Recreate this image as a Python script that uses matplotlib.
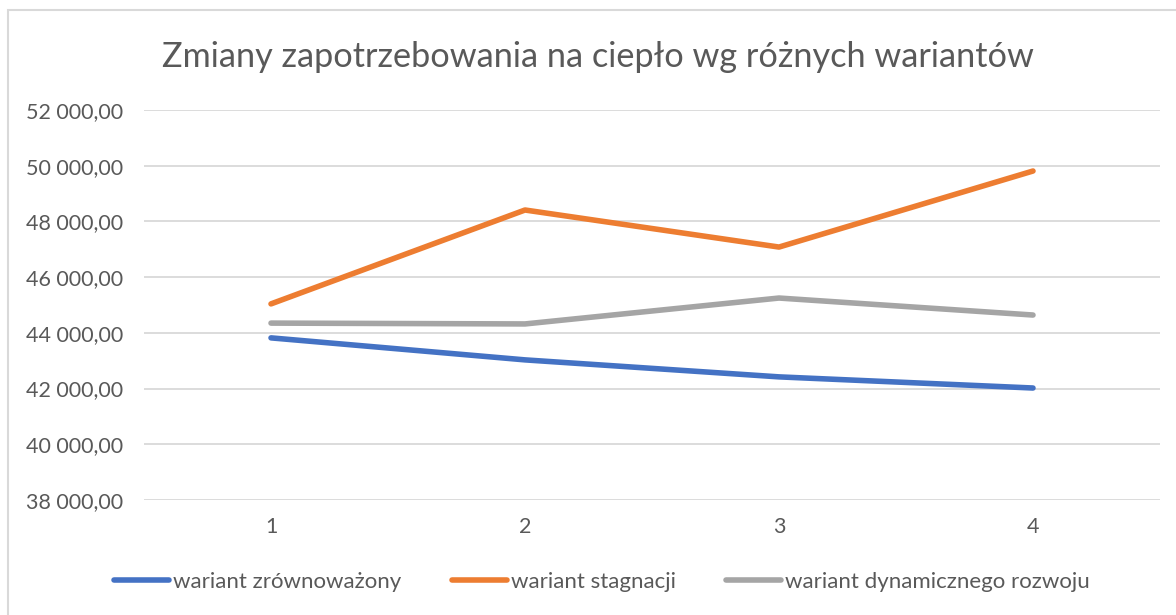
import matplotlib.pyplot as plt
from matplotlib.patches import Rectangle
from matplotlib.ticker import FuncFormatter

plt.rcParams['font.family'] = ['Lato', 'DejaVu Sans']

# --- data ---
categories = ['1', '2', '3', '4']
zrownowazony = [43820, 43030, 42420, 42020]
stagnacji = [45040, 48410, 47080, 49810]
dynamiczny = [44350, 44320, 45250, 44640]
y_ticks = [38000, 40000, 42000, 44000, 46000, 48000, 50000, 52000]

text_color = '#595959'
grid_color = '#D9D9D9'

fig = plt.figure(figsize=(11.76, 6.15), dpi=100)
ax = fig.add_axes([144 / 1176, 1 - 500 / 615, (1160 - 144) / 1176, 390 / 615])

x = range(len(categories))
ax.plot(x, zrownowazony, color='#4472C4', lw=4, solid_capstyle='round',
        solid_joinstyle='round', label='wariant zrównoważony')
ax.plot(x, stagnacji, color='#ED7D31', lw=4, solid_capstyle='round',
        solid_joinstyle='round', label='wariant stagnacji')
ax.plot(x, dynamiczny, color='#A5A5A5', lw=4, solid_capstyle='round',
        solid_joinstyle='round', label='wariant dynamicznego rozwoju')

ax.set_xlim(-0.5, len(categories) - 0.5)
ax.set_ylim(38000, 52000)
ax.set_xticks(list(x))
ax.set_xticklabels(categories)
ax.set_yticks(y_ticks)
ax.yaxis.set_major_formatter(FuncFormatter(
    lambda v, p: f"{v:,.2f}".replace(",", " ").replace(".", ",")))

ax.grid(axis='y', color=grid_color, lw=1.3)
ax.set_axisbelow(True)
for s in ax.spines.values():
    s.set_visible(False)
ax.tick_params(length=0, labelsize=15.5, colors=text_color)
ax.tick_params(axis='y', pad=15)
ax.tick_params(axis='x', pad=12)

fig.text(598 / 1176, 1 - 57 / 615, 'Zmiany zapotrzebowania na ciepło wg różnych wariantów',
         ha='center', va='center', fontsize=24.7, color=text_color)

leg = fig.legend(loc='center', bbox_to_anchor=(602 / 1176, 1 - 582 / 615), ncol=3,
                 frameon=False, fontsize=16, handlelength=2.48,
                 handletextpad=0.18, columnspacing=2.25)
for t in leg.get_texts():
    t.set_color(text_color)

# chart-area border
fig.patches.append(Rectangle((8 / 1176, -0.05), 1.2, 1 - 10 / 615 + 0.05,
                             transform=fig.transFigure, fill=False,
                             edgecolor=grid_color, lw=1.5))

fig.savefig('out.png', dpi=100)
